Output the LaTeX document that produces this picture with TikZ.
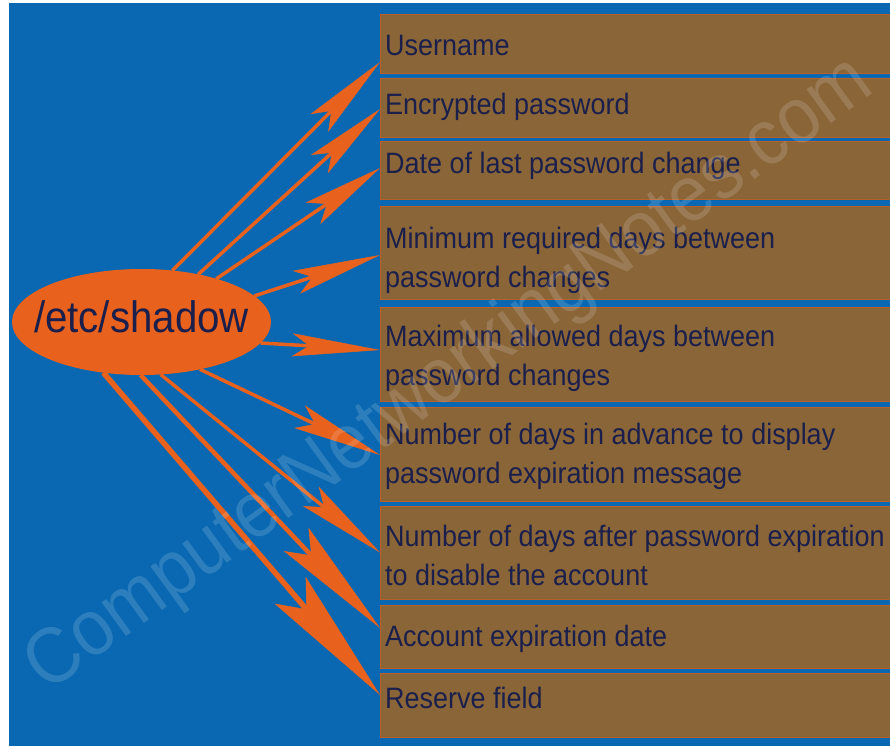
\documentclass[tikz,border=0pt]{standalone}
\usepackage{fontspec}
\setmainfont[FakeStretch=0.915]{Liberation Sans}
\usetikzlibrary{positioning,calc,arrows.meta,shapes.geometric}
\definecolor{bgblue}{RGB}{9,104,177}
\definecolor{fieldbrown}{RGB}{138,101,56}
\definecolor{fieldedge}{RGB}{185,95,42}
\definecolor{inkblue}{RGB}{27,31,75}
\definecolor{shadoworange}{RGB}{232,98,29}

\begin{document}
\begin{tikzpicture}[x=1pt,y=-1pt,
    fieldbox/.style={draw=fieldedge,line width=0.8pt,fill=fieldbrown,anchor=north west,
      minimum width=520pt,inner sep=0pt,outer sep=0pt},
    fieldtext/.style={anchor=north west,inner sep=0pt,align=left,text=inkblue,
      font=\fontsize{29.5}{39}\selectfont},
    link/.style n args={4}{draw=shadoworange,line width=#1,
      -{Stealth[length=#2,width=#3,inset=#4,line width=0.5pt]}}]
  \useasboundingbox (0,0) rectangle (890,746);
  \fill[bgblue] (9,3) rectangle (890,746);
  \node[ellipse,fill=shadoworange,minimum width=259pt,minimum height=106pt,
    inner sep=0pt,outer sep=0pt] (shadow) at (141.5,322) {};
  \node[text=inkblue,font=\fontsize{44}{44}\selectfont] (shadowtxt)
    at ([yshift=5pt]shadow.center) {/etc/shadow};
  % one box per field of the shadow line
  \foreach \nm/\yt/\hh/\ty/\txt in {
      user/14/59/35/{Username},
      pwd/78/59/93/{Encrypted password},
      lastchg/141/58/152/{Date of last password change},
      mindays/206/93/227/{Minimum required days between\\password changes},
      maxdays/307/94/325/{Maximum allowed days between\\password changes},
      warn/407/94/423/{Number of days in advance to display\\password expiration message},
      inactive/506/93/525/{Number of days after password expiration\\to disable the account},
      expire/605/63/625/{Account expiration date},
      reserved/673/64/687/{Reserve field}}{
    \node[fieldbox,minimum height=\hh] (\nm) at (380,\yt) {};
    \node[fieldtext] (\nm txt) at (385,\ty) {\txt};
  }
  \foreach \nm/\ang/\dy/\lw/\len/\wd/\ins in {
      user/59.3/-18.5/3.5pt/86pt/25pt/17pt,
      pwd/40.9/-1.5/3.5pt/82pt/25pt/17pt,
      lastchg/30.8/2/3.5pt/81pt/26pt/17pt,
      mindays/13.4/-2.5/3.5pt/88pt/24pt/17pt,
      maxdays/-10.2/4/3.5pt/88pt/23pt/17pt,
      warn/-39.4/-1/3.5pt/89pt/25pt/17pt,
      inactive/-70/0/3.5pt/89pt/25pt/17pt,
      expire/-91.7/8.5/4.5pt/122pt/34pt/22pt,
      reserved/-127.6/10/5.5pt/138pt/41pt/25pt}
    \draw[link={\lw}{\len}{\wd}{\ins}] (shadow.\ang) -- ([yshift=\dy pt]\nm.west);
  \node[rotate=36,text=white,text opacity=0.15,font=\fontsize{79}{79}\selectfont]
    (mark) at (450,376) {ComputerNetworkingNotes.com};
\end{tikzpicture}
\end{document}
